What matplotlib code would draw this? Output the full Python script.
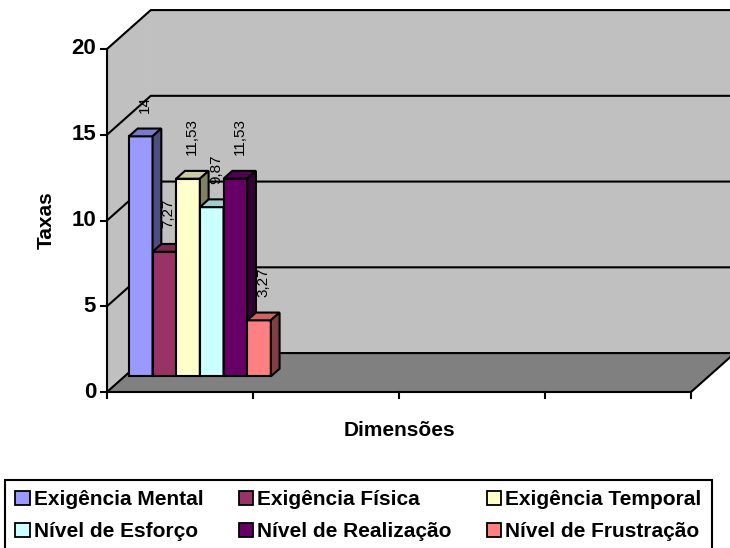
import matplotlib
matplotlib.use("Agg")
import matplotlib.pyplot as plt
from matplotlib.patches import Polygon, Patch
from matplotlib.colors import to_rgb

plt.rcParams["font.family"] = ["Liberation Sans", "DejaVu Sans"]

series = ["Exigência Mental", "Exigência Física", "Exigência Temporal",
          "Nível de Esforço", "Nível de Realização", "Nível de Frustração"]
values = [14, 7.27, 11.53, 9.87, 11.53, 3.27]
value_labels = ["14", "7,27", "11,53", "9,87", "11,53", "3,27"]
colors = ["#9999FF", "#993366", "#FFFFCC", "#CCFFFF", "#660066", "#FF8080"]
y_ticks = [0, 5, 10, 15, 20]
n_categories = 4

# oblique projection used for the 3d look, depth goes from 0 (front) to 1 (back wall)
DEPTH_DX = 0.30   # category units
DEPTH_DY = 2.27   # value units
BAR_D0, BAR_D1 = 0.4, 0.6
BAR_W = 0.162
BAR_START = 0.03
LW = 1.5


def proj(x, y, d):
    return (x + d * DEPTH_DX, y + d * DEPTH_DY)


def shade(c, f):
    r, g, b = to_rgb(c)
    return (r * f, g * f, b * f)


fig = plt.figure(figsize=(7.3, 5.48), dpi=100)
ax = fig.add_axes([0, 0, 1, 1])
# 146 px per category, 17.15 px per value unit, origin at (107, 392) px
ax.set_xlim(-107 / 146, 623 / 146)
ax.set_ylim(-156 / 17.15, 392 / 17.15)
ax.axis("off")

ymax = y_ticks[-1]
n = n_categories

# walls and floor
left_wall = [proj(0, 0, 0), proj(0, 0, 1), proj(0, ymax, 1), proj(0, ymax, 0)]
back_wall = [proj(0, 0, 1), proj(n, 0, 1), proj(n, ymax, 1), proj(0, ymax, 1)]
floor = [proj(0, 0, 0), proj(n, 0, 0), proj(n, 0, 1), proj(0, 0, 1)]
for poly, fc in [(left_wall, "#C0C0C0"), (back_wall, "#C0C0C0"), (floor, "#808080")]:
    ax.add_patch(Polygon(poly, closed=True, fc=fc, ec=fc, lw=0.8, zorder=1))

# gridlines on left and back walls
for v in y_ticks:
    pts = [proj(0, v, 0), proj(0, v, 1), proj(n, v, 1)]
    ax.plot([p[0] for p in pts], [p[1] for p in pts], color="black", lw=LW, zorder=2)

# floor front edge and right edge
pts = [proj(0, 0, 0), proj(n, 0, 0), proj(n, 0, 1)]
ax.plot([p[0] for p in pts], [p[1] for p in pts], color="black", lw=LW, zorder=2)

# value axis
ax.plot([0, 0], [-0.35, ymax], color="black", lw=LW, zorder=2)
for v in y_ticks:
    ax.plot([-0.041, 0], [v, v], color="black", lw=LW, zorder=2)
    ax.text(-0.075, v, str(v), ha="right", va="center", fontsize=16,
            fontweight="bold")
for i in range(1, n + 1):
    ax.plot([i, i], [0, -0.35], color="black", lw=LW, zorder=2)

# bars: front face, top and right side
lefts = [BAR_START + i * BAR_W + BAR_D0 * DEPTH_DX for i in range(len(values))]
bars = ax.bar(lefts, values, width=BAR_W, bottom=BAR_D0 * DEPTH_DY, align="edge",
              color=colors, edgecolor="black", linewidth=LW)
for i, (rect, h, c) in enumerate(zip(bars, values, colors)):
    z = 5 + i * 0.1
    rect.set_zorder(z)
    x0 = BAR_START + i * BAR_W
    x1 = x0 + BAR_W
    top = [proj(x0, h, BAR_D0), proj(x1, h, BAR_D0), proj(x1, h, BAR_D1), proj(x0, h, BAR_D1)]
    side = [proj(x1, 0, BAR_D0), proj(x1, 0, BAR_D1), proj(x1, h, BAR_D1), proj(x1, h, BAR_D0)]
    ax.add_patch(Polygon(top, closed=True, fc=shade(c, 0.8), ec="black", lw=LW, zorder=z))
    ax.add_patch(Polygon(side, closed=True, fc=shade(c, 0.5), ec="black", lw=LW, zorder=z))

for i, (h, lab) in enumerate(zip(values, value_labels)):
    xc = BAR_START + (i + 0.5) * BAR_W + BAR_D0 * DEPTH_DX
    ax.annotate(lab, (xc, h + BAR_D0 * DEPTH_DY), xytext=(3, 17),
                textcoords="offset points", rotation=90, ha="center", va="bottom",
                fontsize=11, zorder=10)

# axis titles
ax.text(-61 / 146, 10.0, "Taxas", rotation=90, ha="center", va="center",
        fontsize=15, fontweight="bold")
ax.text(2.0, -2.27, "Dimensões", ha="center", va="center", fontsize=15,
        fontweight="bold")

# legend, row-major order over 3 columns
order = [0, 3, 1, 4, 2, 5]
handles = [Patch(fc=colors[i], ec="black", lw=1.3) for i in order]
labels = [series[i] for i in order]
leg = fig.legend(handles, labels, ncol=3, loc="upper left",
                 bbox_to_anchor=(5 / 730, 1 - 480 / 548, 707 / 730, 0),
                 mode="expand", frameon=True, fancybox=False, edgecolor="black",
                 framealpha=1, borderpad=0.5, borderaxespad=0,
                 handlelength=0.7, handleheight=0.7, handletextpad=0.2,
                 labelspacing=0.62, columnspacing=0.5,
                 prop={"weight": "bold", "size": 15})
leg.get_frame().set_linewidth(LW)

fig.savefig("out.png", dpi=100)
